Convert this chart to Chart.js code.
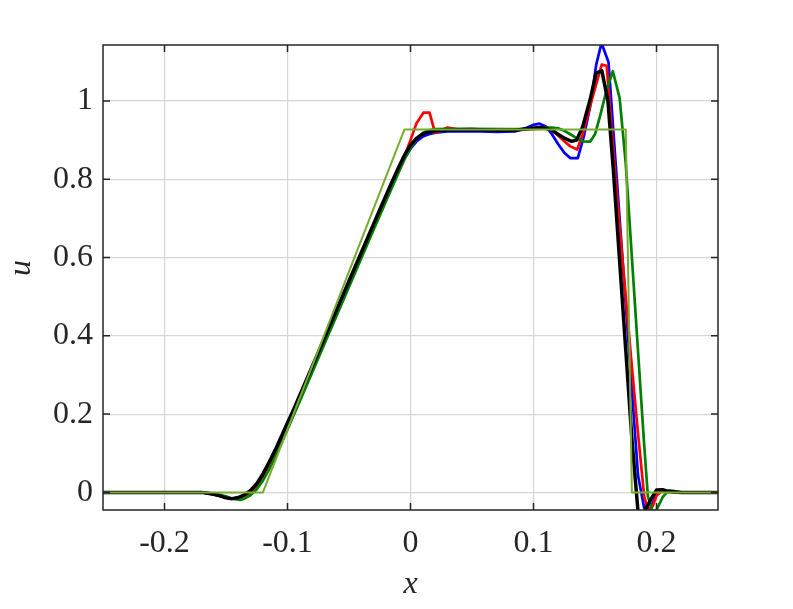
<!DOCTYPE html>
<html>
<head>
<meta charset="utf-8">
<script src="https://cdn.jsdelivr.net/npm/chart.js@4"></script>
<style>
html, body { margin: 0; padding: 0; background: #fff; }
#wrap { width: 793px; height: 609px; }
</style>
</head>
<body>
<div id="wrap"><canvas id="chart" width="793" height="609"></canvas></div>
<script>
// Axis ticks
const xTicks = [-0.2, -0.1, 0, 0.1, 0.2];
const yTicks = [0, 0.2, 0.4, 0.6, 0.8, 1];

// Exact solution (light green)
const xExact = [-0.25, -0.12, -0.005, 0.175, 0.18, 0.25];
const uExact = [0, 0, 0.927, 0.927, 0, 0];

// Black
const xBlack = [-0.25, -0.17, -0.165, -0.16, -0.155, -0.15, -0.145, -0.14, -0.135, -0.13, -0.125, -0.12, -0.115, -0.11, -0.105, -0.1, -0.095, -0.09, -0.08, -0.07, -0.06, -0.05, -0.04, -0.03, -0.025, -0.02, -0.015, -0.01, -0.005, 0, 0.005, 0.01, 0.015, 0.02, 0.03, 0.05, 0.07, 0.085, 0.095, 0.105, 0.11, 0.115, 0.12, 0.125, 0.131, 0.135, 0.14, 0.146, 0.151, 0.1556, 0.1605, 0.165, 0.17, 0.175, 0.18, 0.185, 0.19, 0.195, 0.2, 0.205, 0.21, 0.22, 0.25];
const uBlack = [0, 0, -0.002, -0.005, -0.009, -0.014, -0.016, -0.013, -0.006, 0.005, 0.022, 0.047, 0.077, 0.108, 0.143, 0.178, 0.212, 0.248, 0.321, 0.394, 0.467, 0.54, 0.613, 0.686, 0.722, 0.758, 0.794, 0.828, 0.861, 0.887, 0.905, 0.916, 0.921, 0.924, 0.926, 0.927, 0.925, 0.925, 0.929, 0.932, 0.93, 0.925, 0.915, 0.905, 0.897, 0.9, 0.934, 1.003, 1.072, 1.077, 1.0, 0.82, 0.592, 0.364, 0.136, -0.05, -0.05, -0.02, 0.006, 0.007, 0.002, 0, 0];

// Blue
const xBlue = [-0.25, -0.17, -0.165, -0.16, -0.155, -0.15, -0.145, -0.14, -0.135, -0.13, -0.125, -0.12, -0.115, -0.11, -0.105, -0.1, -0.095, -0.09, -0.08, -0.07, -0.06, -0.05, -0.04, -0.03, -0.025, -0.02, -0.015, -0.01, -0.005, 0, 0.005, 0.01, 0.015, 0.02, 0.03, 0.05, 0.07, 0.085, 0.095, 0.1, 0.105, 0.11, 0.115, 0.12, 0.125, 0.13, 0.136, 0.141, 0.146, 0.151, 0.1553, 0.161, 0.166, 0.17, 0.175, 0.18, 0.185, 0.19, 0.195, 0.2, 0.205, 0.21, 0.22, 0.25];
const uBlue = [0, 0, -0.002, -0.005, -0.009, -0.013, -0.016, -0.014, -0.007, 0.003, 0.019, 0.043, 0.073, 0.105, 0.14, 0.176, 0.21, 0.246, 0.319, 0.392, 0.465, 0.538, 0.611, 0.683, 0.719, 0.754, 0.789, 0.822, 0.853, 0.878, 0.897, 0.909, 0.915, 0.919, 0.922, 0.923, 0.921, 0.922, 0.932, 0.939, 0.942, 0.935, 0.915, 0.89, 0.868, 0.854, 0.854, 0.91, 0.985, 1.093, 1.148, 1.099, 0.876, 0.70, 0.48, 0.26, 0.043, -0.04, -0.04, -0.005, 0.004, 0.001, 0, 0];

// Red
const xRed = [-0.25, -0.17, -0.165, -0.16, -0.155, -0.15, -0.145, -0.14, -0.135, -0.13, -0.125, -0.12, -0.115, -0.11, -0.105, -0.1, -0.095, -0.09, -0.08, -0.07, -0.06, -0.05, -0.04, -0.03, -0.025, -0.02, -0.015, -0.01, -0.005, 0, 0.005, 0.0105, 0.0155, 0.02, 0.03, 0.04, 0.1, 0.11, 0.115, 0.12, 0.125, 0.13, 0.1355, 0.14, 0.148, 0.1555, 0.1595, 0.166, 0.17, 0.175, 0.18, 0.185, 0.19, 0.193, 0.197, 0.2, 0.205, 0.21, 0.22, 0.25];
const uRed = [0, 0, -0.002, -0.004, -0.008, -0.013, -0.016, -0.016, -0.01, 0, 0.014, 0.036, 0.065, 0.097, 0.132, 0.168, 0.203, 0.238, 0.311, 0.384, 0.457, 0.53, 0.603, 0.676, 0.712, 0.748, 0.784, 0.82, 0.858, 0.9, 0.944, 0.97, 0.97, 0.918, 0.932, 0.927, 0.928, 0.93, 0.925, 0.912, 0.897, 0.884, 0.876, 0.915, 1.01, 1.093, 1.09, 0.83, 0.68, 0.5, 0.32, 0.15, -0.01, -0.045, -0.035, -0.008, 0.005, 0.002, 0, 0];

// Dark green
const xGreen = [-0.25, -0.17, -0.165, -0.16, -0.155, -0.15, -0.145, -0.1385, -0.135, -0.13, -0.125, -0.12, -0.115, -0.11, -0.105, -0.1, -0.095, -0.09, -0.08, -0.07, -0.06, -0.05, -0.04, -0.03, -0.025, -0.02, -0.015, -0.01, -0.005, 0, 0.005, 0.01, 0.015, 0.02, 0.04, 0.08, 0.1, 0.11, 0.115, 0.12, 0.125, 0.13, 0.135, 0.14, 0.146, 0.15, 0.154, 0.1596, 0.1645, 0.17, 0.175, 0.18, 0.185, 0.19, 0.193, 0.197, 0.2, 0.205, 0.21, 0.215, 0.22, 0.25];
const uGreen = [0, 0, -0.001, -0.003, -0.006, -0.01, -0.016, -0.019, -0.016, -0.007, 0.008, 0.03, 0.058, 0.09, 0.125, 0.161, 0.197, 0.233, 0.306, 0.379, 0.452, 0.525, 0.598, 0.671, 0.707, 0.743, 0.779, 0.815, 0.85, 0.88, 0.903, 0.918, 0.925, 0.928, 0.929, 0.928, 0.929, 0.932, 0.932, 0.93, 0.924, 0.915, 0.905, 0.897, 0.896, 0.915, 0.96, 1.03, 1.076, 1.008, 0.84, 0.6, 0.36, 0.12, -0.01, -0.05, -0.045, -0.012, 0.005, 0.003, 0, 0];

const FONT = '"Liberation Serif", "Times New Roman", serif';
const AXIS_COLOR = '#262626';

function points(xs, us) {
    return xs.map((x, i) => ({ x: x, y: us[i] }));
}

function line(label, xs, us, color, width, order) {
    return {
        label: label,
        data: points(xs, us),
        borderColor: color,
        borderWidth: width,
        pointRadius: 0,
        tension: 0,
        fill: false,
        borderJoinStyle: 'round',
        order: order
    };
}

// Box, inward ticks and axis titles
const framePlugin = {
    id: 'frame',
    afterDraw(chart) {
        const ctx = chart.ctx;
        const a = chart.chartArea;
        const sx = chart.scales.x;
        const sy = chart.scales.y;
        const len = 7;
        ctx.save();
        ctx.strokeStyle = AXIS_COLOR;
        ctx.lineWidth = 1.5;
        ctx.beginPath();
        xTicks.forEach(v => {
            const p = sx.getPixelForValue(v);
            ctx.moveTo(p, a.bottom);
            ctx.lineTo(p, a.bottom - len);
            ctx.moveTo(p, a.top);
            ctx.lineTo(p, a.top + len);
        });
        yTicks.forEach(v => {
            const p = sy.getPixelForValue(v);
            ctx.moveTo(a.left, p);
            ctx.lineTo(a.left + len, p);
            ctx.moveTo(a.right, p);
            ctx.lineTo(a.right - len, p);
        });
        ctx.stroke();
        ctx.strokeRect(a.left, a.top, a.right - a.left, a.bottom - a.top);

        ctx.fillStyle = AXIS_COLOR;
        ctx.font = 'italic 32px ' + FONT;
        ctx.textAlign = 'center';
        ctx.textBaseline = 'middle';
        ctx.fillText('x', (a.left + a.right) / 2, 585);
        ctx.translate(22, 268);
        ctx.rotate(-Math.PI / 2);
        ctx.fillText('u', 0, 0);
        ctx.restore();
    }
};

new Chart(document.getElementById('chart'), {
    type: 'line',
    data: {
        datasets: [
            line('exact', xExact, uExact, '#77ac30', 2, 0),
            line('black', xBlack, uBlack, '#000000', 3.5, 1),
            line('green', xGreen, uGreen, '#008000', 2.7, 2),
            line('red', xRed, uRed, '#ff0000', 2.7, 3),
            line('blue', xBlue, uBlue, '#0000ff', 2.7, 4)
        ]
    },
    options: {
        responsive: false,
        animation: false,
        devicePixelRatio: 1,
        layout: { padding: { left: 0, top: 45, right: 75, bottom: 0 } },
        plugins: {
            legend: { display: false },
            tooltip: { enabled: false }
        },
        scales: {
            x: {
                type: 'linear',
                min: -0.25,
                max: 0.25,
                afterBuildTicks: s => { s.ticks = xTicks.map(v => ({ value: v })); },
                afterFit: s => { s.height = 99; },
                grid: { color: '#d6d6d6', lineWidth: 1.2, drawTicks: false },
                border: { display: false },
                ticks: {
                    autoSkip: false,
                    maxRotation: 0,
                    padding: 14,
                    color: AXIS_COLOR,
                    font: { family: FONT, size: 32 },
                    callback: v => String(v)
                }
            },
            y: {
                type: 'linear',
                min: -0.045,
                max: 1.143,
                afterBuildTicks: s => { s.ticks = yTicks.map(v => ({ value: v })); },
                afterFit: s => { s.width = 103; },
                grid: { color: '#d6d6d6', lineWidth: 1.2, drawTicks: false },
                border: { display: false },
                ticks: {
                    autoSkip: false,
                    padding: 10,
                    color: AXIS_COLOR,
                    font: { family: FONT, size: 32 },
                    callback: v => String(v)
                }
            }
        }
    },
    plugins: [framePlugin]
});
</script>
</body>
</html>
